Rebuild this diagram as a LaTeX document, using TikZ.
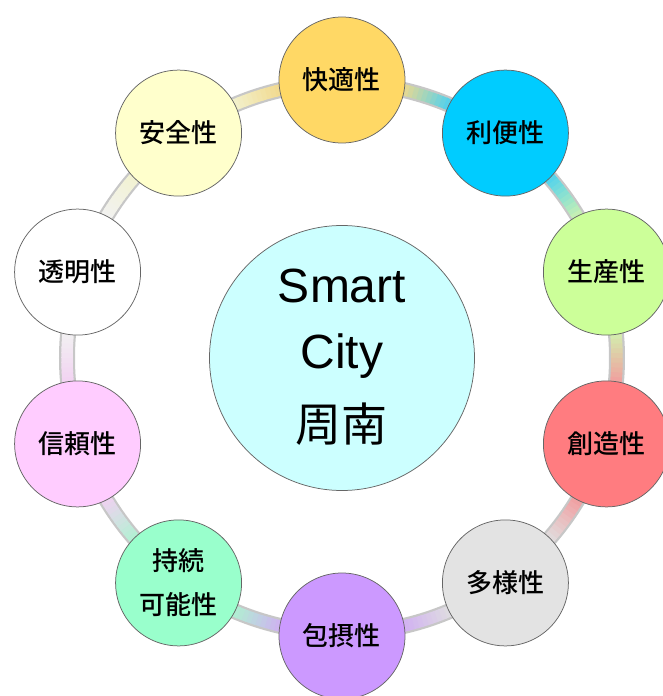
\documentclass[tikz,border=0pt]{standalone}
\usepackage{fontspec}
\setmainfont{Liberation Sans}
\newfontfamily\jp{Noto Sans CJK JP}
\newfontfamily\jpm{Noto Sans CJK JP}[UprightFont=* Medium]
\definecolor{cA}{HTML}{FFD865}
\definecolor{cB}{HTML}{00CCFF}
\definecolor{cC}{HTML}{CCFF99}
\definecolor{cD}{HTML}{FF7C80}
\definecolor{cE}{HTML}{E3E3E3}
\definecolor{cF}{HTML}{CC99FF}
\definecolor{cG}{HTML}{99FFCC}
\definecolor{cH}{HTML}{FFCCFF}
\definecolor{cI}{HTML}{FFFFFF}
\definecolor{cJ}{HTML}{FFFFCC}
\definecolor{hubc}{HTML}{CCFFFF}
\definecolor{edge}{HTML}{666666}
\begin{document}
\begin{tikzpicture}[x=1pt,y=1pt,
  sat/.style={circle, draw=edge, line width=0.75pt, minimum size=126pt, inner sep=0pt,
    font=\jpm\fontsize{26}{44}\selectfont, text=black, align=center},
  hubstyle/.style={circle, draw=edge, line width=0.75pt, fill=hubc, minimum size=265pt, inner sep=0pt},
  hubtext/.style={anchor=base, inner sep=0pt, text=black}]
\useasboundingbox (-342,-338) rectangle (320,358);
\coordinate (ctr) at (0,0);
% ring connectors
\foreach \i/\ca/\cb in {0/cA/cB,1/cB/cC,2/cC/cD,3/cD/cE,4/cE/cF,5/cF/cG,6/cG/cH,7/cH/cI,8/cI/cJ,9/cJ/cA}{
  \pgfmathsetmacro\st{90-36*\i}
  \draw[line width=16pt, color=black!22]
    ([shift={(\st-9:275pt)}]ctr) arc[start angle=\st-9, end angle=\st-27, radius=275pt];
  \foreach \k in {0,...,11}{
    \pgfmathsetmacro\a{\st-12-\k}
    \pgfmathtruncatemacro\p{100-\k*100/11}
    \draw[line width=11.5pt, color=\ca!\p!\cb!70!white!95!black]
      ([shift={(\a:275pt)}]ctr) arc[start angle=\a, end angle=\a-1.2, radius=275pt];
  }
  \draw[line width=11.5pt, color=\ca!70!white!95!black]
    ([shift={(\st-8:275pt)}]ctr) arc[start angle=\st-8, end angle=\st-12.1, radius=275pt];
  \draw[line width=11.5pt, color=\cb!70!white!95!black]
    ([shift={(\st-22.9:275pt)}]ctr) arc[start angle=\st-22.9, end angle=\st-28, radius=275pt];
}
% hub
\node[hubstyle] (hub) at (ctr) {};
\node[hubtext, font=\fontsize{48}{48}\selectfont] (t1) at (0,56) {Smart};
\node[hubtext, font=\fontsize{48}{48}\selectfont] (t2) at (0,-10) {City};
\node[hubtext, font=\jp\fontsize{46}{46}\selectfont] (t3) at (0,-83) {周南};
% satellites
\node[sat, fill=cA] (n0) at (90:278pt) {快適性};
\node[sat, fill=cB] (n1) at (54:278pt) {利便性};
\node[sat, fill=cC] (n2) at (18:278pt) {生産性};
\node[sat, fill=cD] (n3) at (-18:278pt) {創造性};
\node[sat, fill=cE] (n4) at (-54:278pt) {多様性};
\node[sat, fill=cF] (n5) at (-90:278pt) {包摂性};
\node[sat, fill=cG] (n6) at (-126:278pt) {持続\\可能性};
\node[sat, fill=cH] (n7) at (-162:278pt) {信頼性};
\node[sat, fill=cI] (n8) at (162:278pt) {透明性};
\node[sat, fill=cJ] (n9) at (126:278pt) {安全性};
\end{tikzpicture}
\end{document}
